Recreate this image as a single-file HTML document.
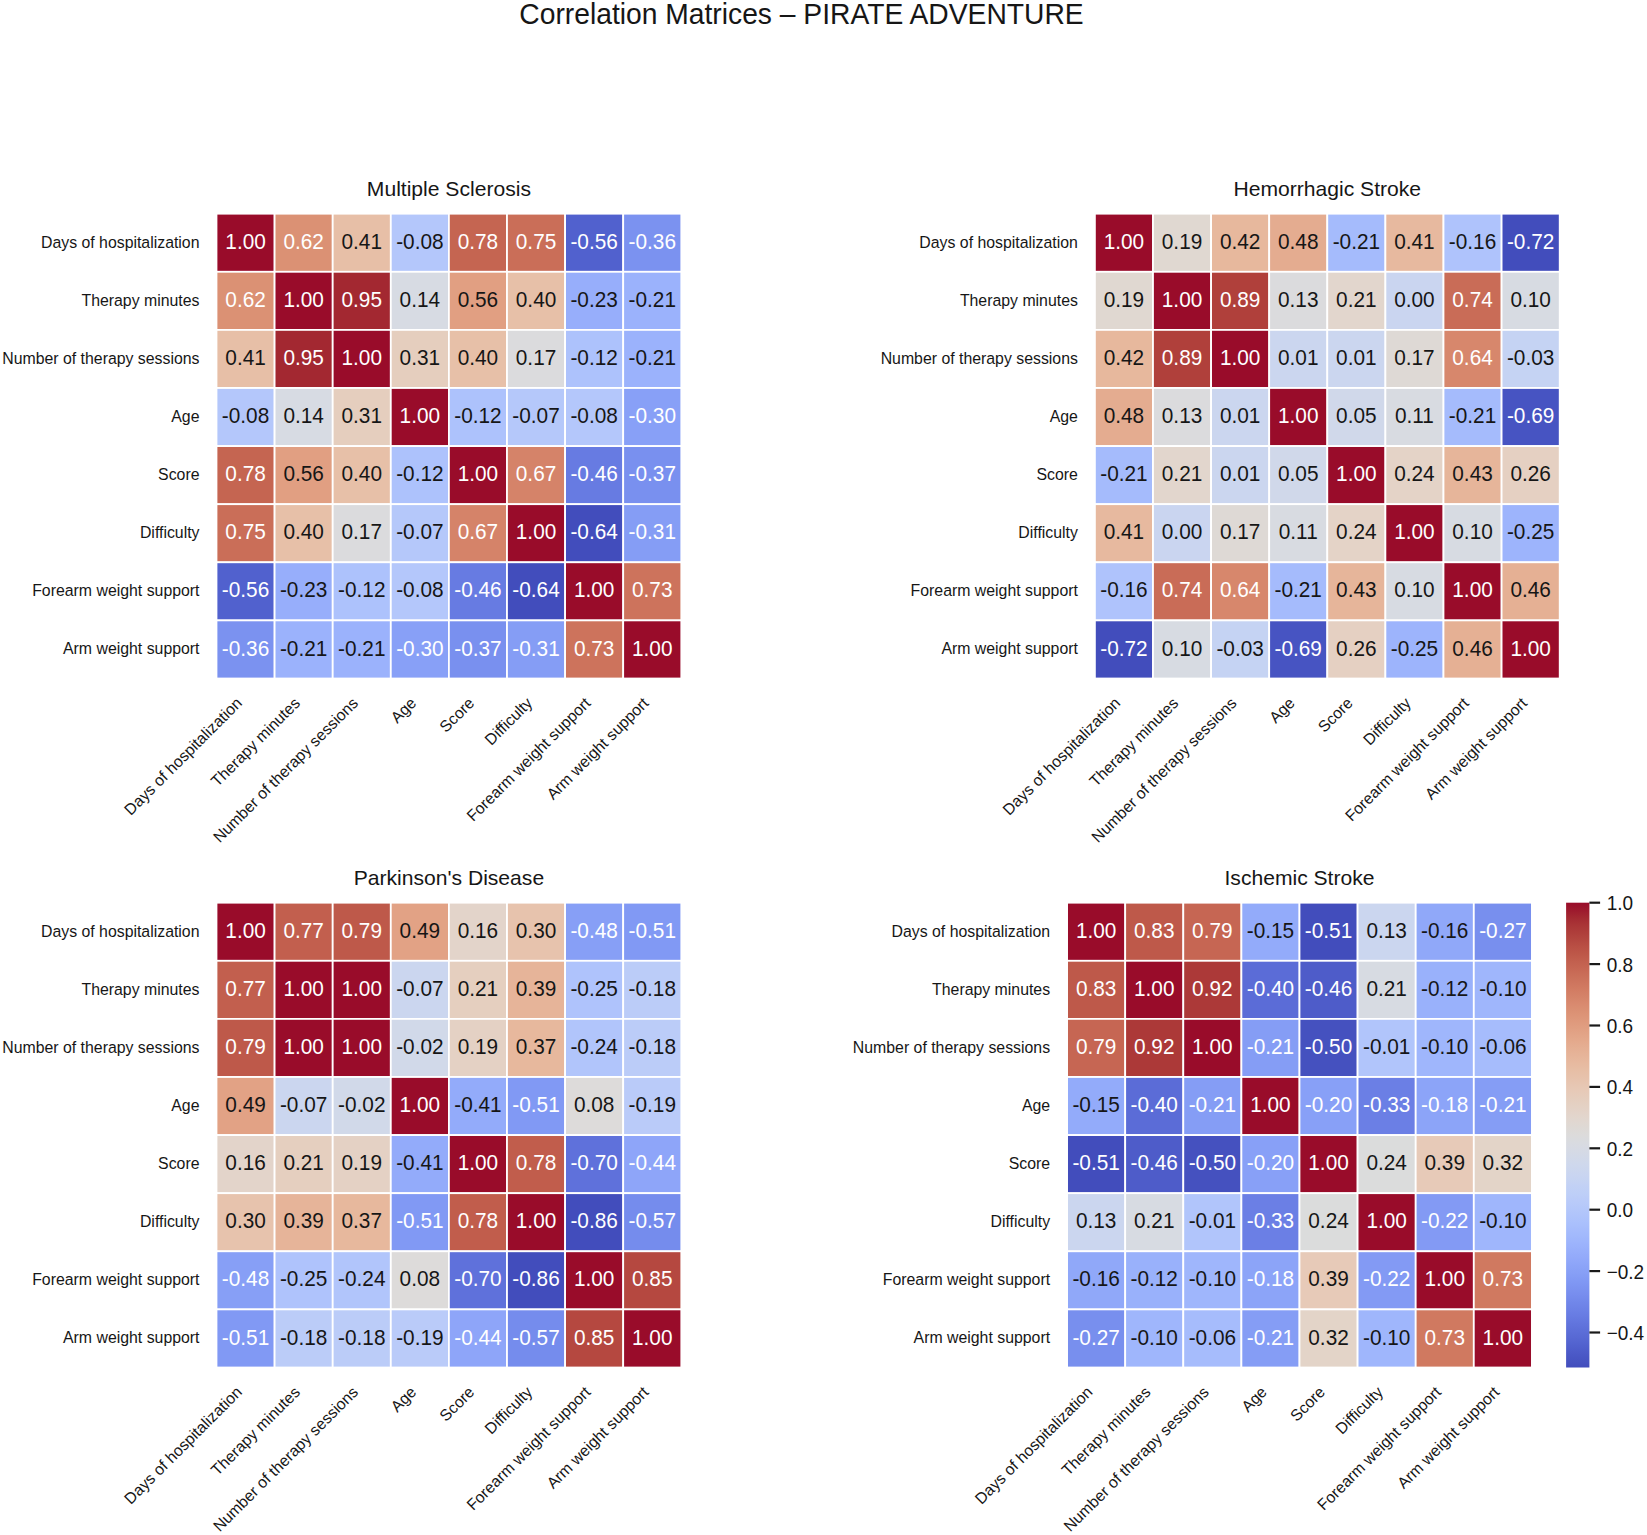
<!DOCTYPE html>
<html lang="en"><head><meta charset="utf-8"><title>Correlation Matrices – PIRATE ADVENTURE</title>
<style>html,body{margin:0;padding:0;background:#fff}svg{display:block}text{font-family:"Liberation Sans",Arial,sans-serif;fill:#161616}.w{fill:#fff}.a{font-size:20.8px;text-anchor:middle}.t{font-size:15.85px}.y{text-anchor:end}.x{text-anchor:end}.h{font-size:21.1px;text-anchor:middle}.c{font-size:19px}</style>
</head><body>
<svg width="1647" height="1535" viewBox="0 0 1647 1535">
<rect width="100%" height="100%" fill="#fff"/>
<text transform="scale(1 1.06)" x="801.5" y="22.45" style="font-size:28.25px;text-anchor:middle">Correlation Matrices – PIRATE ADVENTURE</text>
<g>
<text class="h" x="448.90" y="195.85">Multiple Sclerosis</text>
<g stroke="#fff" stroke-width="1.78">
<rect x="216.50" y="213.70" width="58.10" height="58.10" fill="#990c2a"/>
<rect x="274.60" y="213.70" width="58.10" height="58.10" fill="#db9174"/>
<rect x="332.70" y="213.70" width="58.10" height="58.10" fill="#e7bfa7"/>
<rect x="390.80" y="213.70" width="58.10" height="58.10" fill="#b4c7fb"/>
<rect x="448.90" y="213.70" width="58.10" height="58.10" fill="#c56551"/>
<rect x="507.00" y="213.70" width="58.10" height="58.10" fill="#ca6e58"/>
<rect x="565.10" y="213.70" width="58.10" height="58.10" fill="#5161ce"/>
<rect x="623.20" y="213.70" width="58.10" height="58.10" fill="#7b92f0"/>
<rect x="216.50" y="271.80" width="58.10" height="58.10" fill="#db9174"/>
<rect x="274.60" y="271.80" width="58.10" height="58.10" fill="#990c2a"/>
<rect x="332.70" y="271.80" width="58.10" height="58.10" fill="#a32831"/>
<rect x="390.80" y="271.80" width="58.10" height="58.10" fill="#d7dbe3"/>
<rect x="448.90" y="271.80" width="58.10" height="58.10" fill="#e19f82"/>
<rect x="507.00" y="271.80" width="58.10" height="58.10" fill="#e7c0a8"/>
<rect x="565.10" y="271.80" width="58.10" height="58.10" fill="#97aefb"/>
<rect x="623.20" y="271.80" width="58.10" height="58.10" fill="#9bb2fc"/>
<rect x="216.50" y="329.90" width="58.10" height="58.10" fill="#e7bfa7"/>
<rect x="274.60" y="329.90" width="58.10" height="58.10" fill="#a32831"/>
<rect x="332.70" y="329.90" width="58.10" height="58.10" fill="#990c2a"/>
<rect x="390.80" y="329.90" width="58.10" height="58.10" fill="#e5cebe"/>
<rect x="448.90" y="329.90" width="58.10" height="58.10" fill="#e7c0a8"/>
<rect x="507.00" y="329.90" width="58.10" height="58.10" fill="#dbdbdd"/>
<rect x="565.10" y="329.90" width="58.10" height="58.10" fill="#adc2fc"/>
<rect x="623.20" y="329.90" width="58.10" height="58.10" fill="#9bb2fc"/>
<rect x="216.50" y="388.00" width="58.10" height="58.10" fill="#b4c7fb"/>
<rect x="274.60" y="388.00" width="58.10" height="58.10" fill="#d7dbe3"/>
<rect x="332.70" y="388.00" width="58.10" height="58.10" fill="#e5cebe"/>
<rect x="390.80" y="388.00" width="58.10" height="58.10" fill="#990c2a"/>
<rect x="448.90" y="388.00" width="58.10" height="58.10" fill="#adc2fc"/>
<rect x="507.00" y="388.00" width="58.10" height="58.10" fill="#b5c8fa"/>
<rect x="565.10" y="388.00" width="58.10" height="58.10" fill="#b4c7fb"/>
<rect x="623.20" y="388.00" width="58.10" height="58.10" fill="#88a0f7"/>
<rect x="216.50" y="446.10" width="58.10" height="58.10" fill="#c56551"/>
<rect x="274.60" y="446.10" width="58.10" height="58.10" fill="#e19f82"/>
<rect x="332.70" y="446.10" width="58.10" height="58.10" fill="#e7c0a8"/>
<rect x="390.80" y="446.10" width="58.10" height="58.10" fill="#adc2fc"/>
<rect x="448.90" y="446.10" width="58.10" height="58.10" fill="#990c2a"/>
<rect x="507.00" y="446.10" width="58.10" height="58.10" fill="#d58369"/>
<rect x="565.10" y="446.10" width="58.10" height="58.10" fill="#677be2"/>
<rect x="623.20" y="446.10" width="58.10" height="58.10" fill="#7990ef"/>
<rect x="216.50" y="504.20" width="58.10" height="58.10" fill="#ca6e58"/>
<rect x="274.60" y="504.20" width="58.10" height="58.10" fill="#e7c0a8"/>
<rect x="332.70" y="504.20" width="58.10" height="58.10" fill="#dbdbdd"/>
<rect x="390.80" y="504.20" width="58.10" height="58.10" fill="#b5c8fa"/>
<rect x="448.90" y="504.20" width="58.10" height="58.10" fill="#d58369"/>
<rect x="507.00" y="504.20" width="58.10" height="58.10" fill="#990c2a"/>
<rect x="565.10" y="504.20" width="58.10" height="58.10" fill="#424dbc"/>
<rect x="623.20" y="504.20" width="58.10" height="58.10" fill="#859df5"/>
<rect x="216.50" y="562.30" width="58.10" height="58.10" fill="#5161ce"/>
<rect x="274.60" y="562.30" width="58.10" height="58.10" fill="#97aefb"/>
<rect x="332.70" y="562.30" width="58.10" height="58.10" fill="#adc2fc"/>
<rect x="390.80" y="562.30" width="58.10" height="58.10" fill="#b4c7fb"/>
<rect x="448.90" y="562.30" width="58.10" height="58.10" fill="#677be2"/>
<rect x="507.00" y="562.30" width="58.10" height="58.10" fill="#424dbc"/>
<rect x="565.10" y="562.30" width="58.10" height="58.10" fill="#990c2a"/>
<rect x="623.20" y="562.30" width="58.10" height="58.10" fill="#cd735c"/>
<rect x="216.50" y="620.40" width="58.10" height="58.10" fill="#7b92f0"/>
<rect x="274.60" y="620.40" width="58.10" height="58.10" fill="#9bb2fc"/>
<rect x="332.70" y="620.40" width="58.10" height="58.10" fill="#9bb2fc"/>
<rect x="390.80" y="620.40" width="58.10" height="58.10" fill="#88a0f7"/>
<rect x="448.90" y="620.40" width="58.10" height="58.10" fill="#7990ef"/>
<rect x="507.00" y="620.40" width="58.10" height="58.10" fill="#859df5"/>
<rect x="565.10" y="620.40" width="58.10" height="58.10" fill="#cd735c"/>
<rect x="623.20" y="620.40" width="58.10" height="58.10" fill="#990c2a"/>
</g>
<g class="a" transform="scale(1 1.06)">
<text class="w" x="245.55" y="234.81">1.00</text>
<text class="w" x="303.65" y="234.81">0.62</text>
<text x="361.75" y="234.81">0.41</text>
<text x="419.85" y="234.81">-0.08</text>
<text class="w" x="477.95" y="234.81">0.78</text>
<text class="w" x="536.05" y="234.81">0.75</text>
<text class="w" x="594.15" y="234.81">-0.56</text>
<text class="w" x="652.25" y="234.81">-0.36</text>
<text class="w" x="245.55" y="289.62">0.62</text>
<text class="w" x="303.65" y="289.62">1.00</text>
<text class="w" x="361.75" y="289.62">0.95</text>
<text x="419.85" y="289.62">0.14</text>
<text x="477.95" y="289.62">0.56</text>
<text x="536.05" y="289.62">0.40</text>
<text x="594.15" y="289.62">-0.23</text>
<text x="652.25" y="289.62">-0.21</text>
<text x="245.55" y="344.43">0.41</text>
<text class="w" x="303.65" y="344.43">0.95</text>
<text class="w" x="361.75" y="344.43">1.00</text>
<text x="419.85" y="344.43">0.31</text>
<text x="477.95" y="344.43">0.40</text>
<text x="536.05" y="344.43">0.17</text>
<text x="594.15" y="344.43">-0.12</text>
<text x="652.25" y="344.43">-0.21</text>
<text x="245.55" y="399.25">-0.08</text>
<text x="303.65" y="399.25">0.14</text>
<text x="361.75" y="399.25">0.31</text>
<text class="w" x="419.85" y="399.25">1.00</text>
<text x="477.95" y="399.25">-0.12</text>
<text x="536.05" y="399.25">-0.07</text>
<text x="594.15" y="399.25">-0.08</text>
<text class="w" x="652.25" y="399.25">-0.30</text>
<text class="w" x="245.55" y="454.06">0.78</text>
<text x="303.65" y="454.06">0.56</text>
<text x="361.75" y="454.06">0.40</text>
<text x="419.85" y="454.06">-0.12</text>
<text class="w" x="477.95" y="454.06">1.00</text>
<text class="w" x="536.05" y="454.06">0.67</text>
<text class="w" x="594.15" y="454.06">-0.46</text>
<text class="w" x="652.25" y="454.06">-0.37</text>
<text class="w" x="245.55" y="508.87">0.75</text>
<text x="303.65" y="508.87">0.40</text>
<text x="361.75" y="508.87">0.17</text>
<text x="419.85" y="508.87">-0.07</text>
<text class="w" x="477.95" y="508.87">0.67</text>
<text class="w" x="536.05" y="508.87">1.00</text>
<text class="w" x="594.15" y="508.87">-0.64</text>
<text class="w" x="652.25" y="508.87">-0.31</text>
<text class="w" x="245.55" y="563.68">-0.56</text>
<text x="303.65" y="563.68">-0.23</text>
<text x="361.75" y="563.68">-0.12</text>
<text x="419.85" y="563.68">-0.08</text>
<text class="w" x="477.95" y="563.68">-0.46</text>
<text class="w" x="536.05" y="563.68">-0.64</text>
<text class="w" x="594.15" y="563.68">1.00</text>
<text class="w" x="652.25" y="563.68">0.73</text>
<text class="w" x="245.55" y="618.49">-0.36</text>
<text x="303.65" y="618.49">-0.21</text>
<text x="361.75" y="618.49">-0.21</text>
<text class="w" x="419.85" y="618.49">-0.30</text>
<text class="w" x="477.95" y="618.49">-0.37</text>
<text class="w" x="536.05" y="618.49">-0.31</text>
<text class="w" x="594.15" y="618.49">0.73</text>
<text class="w" x="652.25" y="618.49">1.00</text>
</g>
<g class="t y">
<text x="199.50" y="247.65">Days of hospitalization</text>
<text x="199.50" y="305.75">Therapy minutes</text>
<text x="199.50" y="363.85">Number of therapy sessions</text>
<text x="199.50" y="421.95">Age</text>
<text x="199.50" y="480.05">Score</text>
<text x="199.50" y="538.15">Difficulty</text>
<text x="199.50" y="596.25">Forearm weight support</text>
<text x="199.50" y="654.35">Arm weight support</text>
</g>
<g class="t x">
<text transform="translate(242.95 704.06) rotate(-45)">Days of hospitalization</text>
<text transform="translate(301.05 704.06) rotate(-45)">Therapy minutes</text>
<text transform="translate(359.15 704.06) rotate(-45)">Number of therapy sessions</text>
<text transform="translate(417.25 704.06) rotate(-45)">Age</text>
<text transform="translate(475.35 704.06) rotate(-45)">Score</text>
<text transform="translate(533.45 704.06) rotate(-45)">Difficulty</text>
<text transform="translate(591.55 704.06) rotate(-45)">Forearm weight support</text>
<text transform="translate(649.65 704.06) rotate(-45)">Arm weight support</text>
</g>
</g>
<g>
<text class="h" x="1327.30" y="195.85">Hemorrhagic Stroke</text>
<g stroke="#fff" stroke-width="1.78">
<rect x="1094.90" y="213.70" width="58.10" height="58.10" fill="#990c2a"/>
<rect x="1153.00" y="213.70" width="58.10" height="58.10" fill="#e0d8d1"/>
<rect x="1211.10" y="213.70" width="58.10" height="58.10" fill="#e7b89d"/>
<rect x="1269.20" y="213.70" width="58.10" height="58.10" fill="#e4ac90"/>
<rect x="1327.30" y="213.70" width="58.10" height="58.10" fill="#a5bbfc"/>
<rect x="1385.40" y="213.70" width="58.10" height="58.10" fill="#e7b99f"/>
<rect x="1443.50" y="213.70" width="58.10" height="58.10" fill="#afc3fc"/>
<rect x="1501.60" y="213.70" width="58.10" height="58.10" fill="#424dbc"/>
<rect x="1094.90" y="271.80" width="58.10" height="58.10" fill="#e0d8d1"/>
<rect x="1153.00" y="271.80" width="58.10" height="58.10" fill="#990c2a"/>
<rect x="1211.10" y="271.80" width="58.10" height="58.10" fill="#b0403b"/>
<rect x="1269.20" y="271.80" width="58.10" height="58.10" fill="#dbdbdd"/>
<rect x="1327.30" y="271.80" width="58.10" height="58.10" fill="#e2d6cd"/>
<rect x="1385.40" y="271.80" width="58.10" height="58.10" fill="#cad5f0"/>
<rect x="1443.50" y="271.80" width="58.10" height="58.10" fill="#c96c57"/>
<rect x="1501.60" y="271.80" width="58.10" height="58.10" fill="#d7dbe2"/>
<rect x="1094.90" y="329.90" width="58.10" height="58.10" fill="#e7b89d"/>
<rect x="1153.00" y="329.90" width="58.10" height="58.10" fill="#b0403b"/>
<rect x="1211.10" y="329.90" width="58.10" height="58.10" fill="#990c2a"/>
<rect x="1269.20" y="329.90" width="58.10" height="58.10" fill="#cbd6ef"/>
<rect x="1327.30" y="329.90" width="58.10" height="58.10" fill="#cbd6ef"/>
<rect x="1385.40" y="329.90" width="58.10" height="58.10" fill="#ded9d5"/>
<rect x="1443.50" y="329.90" width="58.10" height="58.10" fill="#d7876c"/>
<rect x="1501.60" y="329.90" width="58.10" height="58.10" fill="#c5d3f3"/>
<rect x="1094.90" y="388.00" width="58.10" height="58.10" fill="#e4ac90"/>
<rect x="1153.00" y="388.00" width="58.10" height="58.10" fill="#dbdbdd"/>
<rect x="1211.10" y="388.00" width="58.10" height="58.10" fill="#cbd6ef"/>
<rect x="1269.20" y="388.00" width="58.10" height="58.10" fill="#990c2a"/>
<rect x="1327.30" y="388.00" width="58.10" height="58.10" fill="#d0d8ea"/>
<rect x="1385.40" y="388.00" width="58.10" height="58.10" fill="#d8dbe1"/>
<rect x="1443.50" y="388.00" width="58.10" height="58.10" fill="#a5bbfc"/>
<rect x="1501.60" y="388.00" width="58.10" height="58.10" fill="#4754c2"/>
<rect x="1094.90" y="446.10" width="58.10" height="58.10" fill="#a5bbfc"/>
<rect x="1153.00" y="446.10" width="58.10" height="58.10" fill="#e2d6cd"/>
<rect x="1211.10" y="446.10" width="58.10" height="58.10" fill="#cbd6ef"/>
<rect x="1269.20" y="446.10" width="58.10" height="58.10" fill="#d0d8ea"/>
<rect x="1327.30" y="446.10" width="58.10" height="58.10" fill="#990c2a"/>
<rect x="1385.40" y="446.10" width="58.10" height="58.10" fill="#e4d3c7"/>
<rect x="1443.50" y="446.10" width="58.10" height="58.10" fill="#e6b59a"/>
<rect x="1501.60" y="446.10" width="58.10" height="58.10" fill="#e5d0c2"/>
<rect x="1094.90" y="504.20" width="58.10" height="58.10" fill="#e7b99f"/>
<rect x="1153.00" y="504.20" width="58.10" height="58.10" fill="#cad5f0"/>
<rect x="1211.10" y="504.20" width="58.10" height="58.10" fill="#ded9d5"/>
<rect x="1269.20" y="504.20" width="58.10" height="58.10" fill="#d8dbe1"/>
<rect x="1327.30" y="504.20" width="58.10" height="58.10" fill="#e4d3c7"/>
<rect x="1385.40" y="504.20" width="58.10" height="58.10" fill="#990c2a"/>
<rect x="1443.50" y="504.20" width="58.10" height="58.10" fill="#d7dbe2"/>
<rect x="1501.60" y="504.20" width="58.10" height="58.10" fill="#9db4fc"/>
<rect x="1094.90" y="562.30" width="58.10" height="58.10" fill="#afc3fc"/>
<rect x="1153.00" y="562.30" width="58.10" height="58.10" fill="#c96c57"/>
<rect x="1211.10" y="562.30" width="58.10" height="58.10" fill="#d7876c"/>
<rect x="1269.20" y="562.30" width="58.10" height="58.10" fill="#a5bbfc"/>
<rect x="1327.30" y="562.30" width="58.10" height="58.10" fill="#e6b59a"/>
<rect x="1385.40" y="562.30" width="58.10" height="58.10" fill="#d7dbe2"/>
<rect x="1443.50" y="562.30" width="58.10" height="58.10" fill="#990c2a"/>
<rect x="1501.60" y="562.30" width="58.10" height="58.10" fill="#e5b094"/>
<rect x="1094.90" y="620.40" width="58.10" height="58.10" fill="#424dbc"/>
<rect x="1153.00" y="620.40" width="58.10" height="58.10" fill="#d7dbe2"/>
<rect x="1211.10" y="620.40" width="58.10" height="58.10" fill="#c5d3f3"/>
<rect x="1269.20" y="620.40" width="58.10" height="58.10" fill="#4754c2"/>
<rect x="1327.30" y="620.40" width="58.10" height="58.10" fill="#e5d0c2"/>
<rect x="1385.40" y="620.40" width="58.10" height="58.10" fill="#9db4fc"/>
<rect x="1443.50" y="620.40" width="58.10" height="58.10" fill="#e5b094"/>
<rect x="1501.60" y="620.40" width="58.10" height="58.10" fill="#990c2a"/>
</g>
<g class="a" transform="scale(1 1.06)">
<text class="w" x="1123.95" y="234.81">1.00</text>
<text x="1182.05" y="234.81">0.19</text>
<text x="1240.15" y="234.81">0.42</text>
<text x="1298.25" y="234.81">0.48</text>
<text x="1356.35" y="234.81">-0.21</text>
<text x="1414.45" y="234.81">0.41</text>
<text x="1472.55" y="234.81">-0.16</text>
<text class="w" x="1530.65" y="234.81">-0.72</text>
<text x="1123.95" y="289.62">0.19</text>
<text class="w" x="1182.05" y="289.62">1.00</text>
<text class="w" x="1240.15" y="289.62">0.89</text>
<text x="1298.25" y="289.62">0.13</text>
<text x="1356.35" y="289.62">0.21</text>
<text x="1414.45" y="289.62">0.00</text>
<text class="w" x="1472.55" y="289.62">0.74</text>
<text x="1530.65" y="289.62">0.10</text>
<text x="1123.95" y="344.43">0.42</text>
<text class="w" x="1182.05" y="344.43">0.89</text>
<text class="w" x="1240.15" y="344.43">1.00</text>
<text x="1298.25" y="344.43">0.01</text>
<text x="1356.35" y="344.43">0.01</text>
<text x="1414.45" y="344.43">0.17</text>
<text class="w" x="1472.55" y="344.43">0.64</text>
<text x="1530.65" y="344.43">-0.03</text>
<text x="1123.95" y="399.25">0.48</text>
<text x="1182.05" y="399.25">0.13</text>
<text x="1240.15" y="399.25">0.01</text>
<text class="w" x="1298.25" y="399.25">1.00</text>
<text x="1356.35" y="399.25">0.05</text>
<text x="1414.45" y="399.25">0.11</text>
<text x="1472.55" y="399.25">-0.21</text>
<text class="w" x="1530.65" y="399.25">-0.69</text>
<text x="1123.95" y="454.06">-0.21</text>
<text x="1182.05" y="454.06">0.21</text>
<text x="1240.15" y="454.06">0.01</text>
<text x="1298.25" y="454.06">0.05</text>
<text class="w" x="1356.35" y="454.06">1.00</text>
<text x="1414.45" y="454.06">0.24</text>
<text x="1472.55" y="454.06">0.43</text>
<text x="1530.65" y="454.06">0.26</text>
<text x="1123.95" y="508.87">0.41</text>
<text x="1182.05" y="508.87">0.00</text>
<text x="1240.15" y="508.87">0.17</text>
<text x="1298.25" y="508.87">0.11</text>
<text x="1356.35" y="508.87">0.24</text>
<text class="w" x="1414.45" y="508.87">1.00</text>
<text x="1472.55" y="508.87">0.10</text>
<text x="1530.65" y="508.87">-0.25</text>
<text x="1123.95" y="563.68">-0.16</text>
<text class="w" x="1182.05" y="563.68">0.74</text>
<text class="w" x="1240.15" y="563.68">0.64</text>
<text x="1298.25" y="563.68">-0.21</text>
<text x="1356.35" y="563.68">0.43</text>
<text x="1414.45" y="563.68">0.10</text>
<text class="w" x="1472.55" y="563.68">1.00</text>
<text x="1530.65" y="563.68">0.46</text>
<text class="w" x="1123.95" y="618.49">-0.72</text>
<text x="1182.05" y="618.49">0.10</text>
<text x="1240.15" y="618.49">-0.03</text>
<text class="w" x="1298.25" y="618.49">-0.69</text>
<text x="1356.35" y="618.49">0.26</text>
<text x="1414.45" y="618.49">-0.25</text>
<text x="1472.55" y="618.49">0.46</text>
<text class="w" x="1530.65" y="618.49">1.00</text>
</g>
<g class="t y">
<text x="1077.90" y="247.65">Days of hospitalization</text>
<text x="1077.90" y="305.75">Therapy minutes</text>
<text x="1077.90" y="363.85">Number of therapy sessions</text>
<text x="1077.90" y="421.95">Age</text>
<text x="1077.90" y="480.05">Score</text>
<text x="1077.90" y="538.15">Difficulty</text>
<text x="1077.90" y="596.25">Forearm weight support</text>
<text x="1077.90" y="654.35">Arm weight support</text>
</g>
<g class="t x">
<text transform="translate(1121.35 704.06) rotate(-45)">Days of hospitalization</text>
<text transform="translate(1179.45 704.06) rotate(-45)">Therapy minutes</text>
<text transform="translate(1237.55 704.06) rotate(-45)">Number of therapy sessions</text>
<text transform="translate(1295.65 704.06) rotate(-45)">Age</text>
<text transform="translate(1353.75 704.06) rotate(-45)">Score</text>
<text transform="translate(1411.85 704.06) rotate(-45)">Difficulty</text>
<text transform="translate(1469.95 704.06) rotate(-45)">Forearm weight support</text>
<text transform="translate(1528.05 704.06) rotate(-45)">Arm weight support</text>
</g>
</g>
<g>
<text class="h" x="448.90" y="885.20">Parkinson&#39;s Disease</text>
<g stroke="#fff" stroke-width="1.78">
<rect x="216.50" y="902.70" width="58.10" height="58.10" fill="#990c2a"/>
<rect x="274.60" y="902.70" width="58.10" height="58.10" fill="#c25f4e"/>
<rect x="332.70" y="902.70" width="58.10" height="58.10" fill="#be594a"/>
<rect x="390.80" y="902.70" width="58.10" height="58.10" fill="#e2a285"/>
<rect x="448.90" y="902.70" width="58.10" height="58.10" fill="#e3d4ca"/>
<rect x="507.00" y="902.70" width="58.10" height="58.10" fill="#e7c3ad"/>
<rect x="565.10" y="902.70" width="58.10" height="58.10" fill="#879ff6"/>
<rect x="623.20" y="902.70" width="58.10" height="58.10" fill="#8199f4"/>
<rect x="216.50" y="960.80" width="58.10" height="58.10" fill="#c25f4e"/>
<rect x="274.60" y="960.80" width="58.10" height="58.10" fill="#990c2a"/>
<rect x="332.70" y="960.80" width="58.10" height="58.10" fill="#990c2a"/>
<rect x="390.80" y="960.80" width="58.10" height="58.10" fill="#cbd6ef"/>
<rect x="448.90" y="960.80" width="58.10" height="58.10" fill="#e5cfbf"/>
<rect x="507.00" y="960.80" width="58.10" height="58.10" fill="#e6b499"/>
<rect x="565.10" y="960.80" width="58.10" height="58.10" fill="#afc3fc"/>
<rect x="623.20" y="960.80" width="58.10" height="58.10" fill="#bbccf8"/>
<rect x="216.50" y="1018.90" width="58.10" height="58.10" fill="#be594a"/>
<rect x="274.60" y="1018.90" width="58.10" height="58.10" fill="#990c2a"/>
<rect x="332.70" y="1018.90" width="58.10" height="58.10" fill="#990c2a"/>
<rect x="390.80" y="1018.90" width="58.10" height="58.10" fill="#d1d9e9"/>
<rect x="448.90" y="1018.90" width="58.10" height="58.10" fill="#e4d1c4"/>
<rect x="507.00" y="1018.90" width="58.10" height="58.10" fill="#e7b89d"/>
<rect x="565.10" y="1018.90" width="58.10" height="58.10" fill="#b1c5fb"/>
<rect x="623.20" y="1018.90" width="58.10" height="58.10" fill="#bbccf8"/>
<rect x="216.50" y="1077.00" width="58.10" height="58.10" fill="#e2a285"/>
<rect x="274.60" y="1077.00" width="58.10" height="58.10" fill="#cbd6ef"/>
<rect x="332.70" y="1077.00" width="58.10" height="58.10" fill="#d1d9e9"/>
<rect x="390.80" y="1077.00" width="58.10" height="58.10" fill="#990c2a"/>
<rect x="448.90" y="1077.00" width="58.10" height="58.10" fill="#93abfa"/>
<rect x="507.00" y="1077.00" width="58.10" height="58.10" fill="#8199f4"/>
<rect x="565.10" y="1077.00" width="58.10" height="58.10" fill="#dddbda"/>
<rect x="623.20" y="1077.00" width="58.10" height="58.10" fill="#bacbf9"/>
<rect x="216.50" y="1135.10" width="58.10" height="58.10" fill="#e3d4ca"/>
<rect x="274.60" y="1135.10" width="58.10" height="58.10" fill="#e5cfbf"/>
<rect x="332.70" y="1135.10" width="58.10" height="58.10" fill="#e4d1c4"/>
<rect x="390.80" y="1135.10" width="58.10" height="58.10" fill="#93abfa"/>
<rect x="448.90" y="1135.10" width="58.10" height="58.10" fill="#990c2a"/>
<rect x="507.00" y="1135.10" width="58.10" height="58.10" fill="#c15d4c"/>
<rect x="565.10" y="1135.10" width="58.10" height="58.10" fill="#5f71db"/>
<rect x="623.20" y="1135.10" width="58.10" height="58.10" fill="#8ea5f9"/>
<rect x="216.50" y="1193.20" width="58.10" height="58.10" fill="#e7c3ad"/>
<rect x="274.60" y="1193.20" width="58.10" height="58.10" fill="#e6b499"/>
<rect x="332.70" y="1193.20" width="58.10" height="58.10" fill="#e7b89d"/>
<rect x="390.80" y="1193.20" width="58.10" height="58.10" fill="#8199f4"/>
<rect x="448.90" y="1193.20" width="58.10" height="58.10" fill="#c15d4c"/>
<rect x="507.00" y="1193.20" width="58.10" height="58.10" fill="#990c2a"/>
<rect x="565.10" y="1193.20" width="58.10" height="58.10" fill="#424dbc"/>
<rect x="623.20" y="1193.20" width="58.10" height="58.10" fill="#758ced"/>
<rect x="216.50" y="1251.30" width="58.10" height="58.10" fill="#879ff6"/>
<rect x="274.60" y="1251.30" width="58.10" height="58.10" fill="#afc3fc"/>
<rect x="332.70" y="1251.30" width="58.10" height="58.10" fill="#b1c5fb"/>
<rect x="390.80" y="1251.30" width="58.10" height="58.10" fill="#dddbda"/>
<rect x="448.90" y="1251.30" width="58.10" height="58.10" fill="#5f71db"/>
<rect x="507.00" y="1251.30" width="58.10" height="58.10" fill="#424dbc"/>
<rect x="565.10" y="1251.30" width="58.10" height="58.10" fill="#990c2a"/>
<rect x="623.20" y="1251.30" width="58.10" height="58.10" fill="#b54840"/>
<rect x="216.50" y="1309.40" width="58.10" height="58.10" fill="#8199f4"/>
<rect x="274.60" y="1309.40" width="58.10" height="58.10" fill="#bbccf8"/>
<rect x="332.70" y="1309.40" width="58.10" height="58.10" fill="#bbccf8"/>
<rect x="390.80" y="1309.40" width="58.10" height="58.10" fill="#bacbf9"/>
<rect x="448.90" y="1309.40" width="58.10" height="58.10" fill="#8ea5f9"/>
<rect x="507.00" y="1309.40" width="58.10" height="58.10" fill="#758ced"/>
<rect x="565.10" y="1309.40" width="58.10" height="58.10" fill="#b54840"/>
<rect x="623.20" y="1309.40" width="58.10" height="58.10" fill="#990c2a"/>
</g>
<g class="a" transform="scale(1 1.06)">
<text class="w" x="245.55" y="884.81">1.00</text>
<text class="w" x="303.65" y="884.81">0.77</text>
<text class="w" x="361.75" y="884.81">0.79</text>
<text x="419.85" y="884.81">0.49</text>
<text x="477.95" y="884.81">0.16</text>
<text x="536.05" y="884.81">0.30</text>
<text class="w" x="594.15" y="884.81">-0.48</text>
<text class="w" x="652.25" y="884.81">-0.51</text>
<text class="w" x="245.55" y="939.62">0.77</text>
<text class="w" x="303.65" y="939.62">1.00</text>
<text class="w" x="361.75" y="939.62">1.00</text>
<text x="419.85" y="939.62">-0.07</text>
<text x="477.95" y="939.62">0.21</text>
<text x="536.05" y="939.62">0.39</text>
<text x="594.15" y="939.62">-0.25</text>
<text x="652.25" y="939.62">-0.18</text>
<text class="w" x="245.55" y="994.43">0.79</text>
<text class="w" x="303.65" y="994.43">1.00</text>
<text class="w" x="361.75" y="994.43">1.00</text>
<text x="419.85" y="994.43">-0.02</text>
<text x="477.95" y="994.43">0.19</text>
<text x="536.05" y="994.43">0.37</text>
<text x="594.15" y="994.43">-0.24</text>
<text x="652.25" y="994.43">-0.18</text>
<text x="245.55" y="1049.25">0.49</text>
<text x="303.65" y="1049.25">-0.07</text>
<text x="361.75" y="1049.25">-0.02</text>
<text class="w" x="419.85" y="1049.25">1.00</text>
<text x="477.95" y="1049.25">-0.41</text>
<text class="w" x="536.05" y="1049.25">-0.51</text>
<text x="594.15" y="1049.25">0.08</text>
<text x="652.25" y="1049.25">-0.19</text>
<text x="245.55" y="1104.06">0.16</text>
<text x="303.65" y="1104.06">0.21</text>
<text x="361.75" y="1104.06">0.19</text>
<text x="419.85" y="1104.06">-0.41</text>
<text class="w" x="477.95" y="1104.06">1.00</text>
<text class="w" x="536.05" y="1104.06">0.78</text>
<text class="w" x="594.15" y="1104.06">-0.70</text>
<text class="w" x="652.25" y="1104.06">-0.44</text>
<text x="245.55" y="1158.87">0.30</text>
<text x="303.65" y="1158.87">0.39</text>
<text x="361.75" y="1158.87">0.37</text>
<text class="w" x="419.85" y="1158.87">-0.51</text>
<text class="w" x="477.95" y="1158.87">0.78</text>
<text class="w" x="536.05" y="1158.87">1.00</text>
<text class="w" x="594.15" y="1158.87">-0.86</text>
<text class="w" x="652.25" y="1158.87">-0.57</text>
<text class="w" x="245.55" y="1213.68">-0.48</text>
<text x="303.65" y="1213.68">-0.25</text>
<text x="361.75" y="1213.68">-0.24</text>
<text x="419.85" y="1213.68">0.08</text>
<text class="w" x="477.95" y="1213.68">-0.70</text>
<text class="w" x="536.05" y="1213.68">-0.86</text>
<text class="w" x="594.15" y="1213.68">1.00</text>
<text class="w" x="652.25" y="1213.68">0.85</text>
<text class="w" x="245.55" y="1268.49">-0.51</text>
<text x="303.65" y="1268.49">-0.18</text>
<text x="361.75" y="1268.49">-0.18</text>
<text x="419.85" y="1268.49">-0.19</text>
<text class="w" x="477.95" y="1268.49">-0.44</text>
<text class="w" x="536.05" y="1268.49">-0.57</text>
<text class="w" x="594.15" y="1268.49">0.85</text>
<text class="w" x="652.25" y="1268.49">1.00</text>
</g>
<g class="t y">
<text x="199.50" y="936.65">Days of hospitalization</text>
<text x="199.50" y="994.75">Therapy minutes</text>
<text x="199.50" y="1052.85">Number of therapy sessions</text>
<text x="199.50" y="1110.95">Age</text>
<text x="199.50" y="1169.05">Score</text>
<text x="199.50" y="1227.15">Difficulty</text>
<text x="199.50" y="1285.25">Forearm weight support</text>
<text x="199.50" y="1343.35">Arm weight support</text>
</g>
<g class="t x">
<text transform="translate(242.95 1393.06) rotate(-45)">Days of hospitalization</text>
<text transform="translate(301.05 1393.06) rotate(-45)">Therapy minutes</text>
<text transform="translate(359.15 1393.06) rotate(-45)">Number of therapy sessions</text>
<text transform="translate(417.25 1393.06) rotate(-45)">Age</text>
<text transform="translate(475.35 1393.06) rotate(-45)">Score</text>
<text transform="translate(533.45 1393.06) rotate(-45)">Difficulty</text>
<text transform="translate(591.55 1393.06) rotate(-45)">Forearm weight support</text>
<text transform="translate(649.65 1393.06) rotate(-45)">Arm weight support</text>
</g>
</g>
<g>
<text class="h" x="1299.50" y="885.20">Ischemic Stroke</text>
<g stroke="#fff" stroke-width="1.78">
<rect x="1067.10" y="902.70" width="58.10" height="58.10" fill="#990c2a"/>
<rect x="1125.20" y="902.70" width="58.10" height="58.10" fill="#be594a"/>
<rect x="1183.30" y="902.70" width="58.10" height="58.10" fill="#c66653"/>
<rect x="1241.40" y="902.70" width="58.10" height="58.10" fill="#93abfa"/>
<rect x="1299.50" y="902.70" width="58.10" height="58.10" fill="#424dbc"/>
<rect x="1357.60" y="902.70" width="58.10" height="58.10" fill="#cbd6ef"/>
<rect x="1415.70" y="902.70" width="58.10" height="58.10" fill="#90a8f9"/>
<rect x="1473.80" y="902.70" width="58.10" height="58.10" fill="#788fee"/>
<rect x="1067.10" y="960.80" width="58.10" height="58.10" fill="#be594a"/>
<rect x="1125.20" y="960.80" width="58.10" height="58.10" fill="#990c2a"/>
<rect x="1183.30" y="960.80" width="58.10" height="58.10" fill="#ac3938"/>
<rect x="1241.40" y="960.80" width="58.10" height="58.10" fill="#5b6cd7"/>
<rect x="1299.50" y="960.80" width="58.10" height="58.10" fill="#4e5cc9"/>
<rect x="1357.60" y="960.80" width="58.10" height="58.10" fill="#d7dbe2"/>
<rect x="1415.70" y="960.80" width="58.10" height="58.10" fill="#99b1fb"/>
<rect x="1473.80" y="960.80" width="58.10" height="58.10" fill="#9fb6fc"/>
<rect x="1067.10" y="1018.90" width="58.10" height="58.10" fill="#c66653"/>
<rect x="1125.20" y="1018.90" width="58.10" height="58.10" fill="#ac3938"/>
<rect x="1183.30" y="1018.90" width="58.10" height="58.10" fill="#990c2a"/>
<rect x="1241.40" y="1018.90" width="58.10" height="58.10" fill="#859df5"/>
<rect x="1299.50" y="1018.90" width="58.10" height="58.10" fill="#4551bf"/>
<rect x="1357.60" y="1018.90" width="58.10" height="58.10" fill="#b1c5fb"/>
<rect x="1415.70" y="1018.90" width="58.10" height="58.10" fill="#9fb6fc"/>
<rect x="1473.80" y="1018.90" width="58.10" height="58.10" fill="#a6bcfc"/>
<rect x="1067.10" y="1077.00" width="58.10" height="58.10" fill="#93abfa"/>
<rect x="1125.20" y="1077.00" width="58.10" height="58.10" fill="#5b6cd7"/>
<rect x="1183.30" y="1077.00" width="58.10" height="58.10" fill="#859df5"/>
<rect x="1241.40" y="1077.00" width="58.10" height="58.10" fill="#990c2a"/>
<rect x="1299.50" y="1077.00" width="58.10" height="58.10" fill="#88a0f7"/>
<rect x="1357.60" y="1077.00" width="58.10" height="58.10" fill="#6b7fe5"/>
<rect x="1415.70" y="1077.00" width="58.10" height="58.10" fill="#8ca4f8"/>
<rect x="1473.80" y="1077.00" width="58.10" height="58.10" fill="#859df5"/>
<rect x="1067.10" y="1135.10" width="58.10" height="58.10" fill="#424dbc"/>
<rect x="1125.20" y="1135.10" width="58.10" height="58.10" fill="#4e5cc9"/>
<rect x="1183.30" y="1135.10" width="58.10" height="58.10" fill="#4551bf"/>
<rect x="1241.40" y="1135.10" width="58.10" height="58.10" fill="#88a0f7"/>
<rect x="1299.50" y="1135.10" width="58.10" height="58.10" fill="#990c2a"/>
<rect x="1357.60" y="1135.10" width="58.10" height="58.10" fill="#dbdcdc"/>
<rect x="1415.70" y="1135.10" width="58.10" height="58.10" fill="#e7cab8"/>
<rect x="1473.80" y="1135.10" width="58.10" height="58.10" fill="#e3d4c8"/>
<rect x="1067.10" y="1193.20" width="58.10" height="58.10" fill="#cbd6ef"/>
<rect x="1125.20" y="1193.20" width="58.10" height="58.10" fill="#d7dbe2"/>
<rect x="1183.30" y="1193.20" width="58.10" height="58.10" fill="#b1c5fb"/>
<rect x="1241.40" y="1193.20" width="58.10" height="58.10" fill="#6b7fe5"/>
<rect x="1299.50" y="1193.20" width="58.10" height="58.10" fill="#dbdcdc"/>
<rect x="1357.60" y="1193.20" width="58.10" height="58.10" fill="#990c2a"/>
<rect x="1415.70" y="1193.20" width="58.10" height="58.10" fill="#839af4"/>
<rect x="1473.80" y="1193.20" width="58.10" height="58.10" fill="#9fb6fc"/>
<rect x="1067.10" y="1251.30" width="58.10" height="58.10" fill="#90a8f9"/>
<rect x="1125.20" y="1251.30" width="58.10" height="58.10" fill="#99b1fb"/>
<rect x="1183.30" y="1251.30" width="58.10" height="58.10" fill="#9fb6fc"/>
<rect x="1241.40" y="1251.30" width="58.10" height="58.10" fill="#8ca4f8"/>
<rect x="1299.50" y="1251.30" width="58.10" height="58.10" fill="#e7cab8"/>
<rect x="1357.60" y="1251.30" width="58.10" height="58.10" fill="#839af4"/>
<rect x="1415.70" y="1251.30" width="58.10" height="58.10" fill="#990c2a"/>
<rect x="1473.80" y="1251.30" width="58.10" height="58.10" fill="#d07960"/>
<rect x="1067.10" y="1309.40" width="58.10" height="58.10" fill="#788fee"/>
<rect x="1125.20" y="1309.40" width="58.10" height="58.10" fill="#9fb6fc"/>
<rect x="1183.30" y="1309.40" width="58.10" height="58.10" fill="#a6bcfc"/>
<rect x="1241.40" y="1309.40" width="58.10" height="58.10" fill="#859df5"/>
<rect x="1299.50" y="1309.40" width="58.10" height="58.10" fill="#e3d4c8"/>
<rect x="1357.60" y="1309.40" width="58.10" height="58.10" fill="#9fb6fc"/>
<rect x="1415.70" y="1309.40" width="58.10" height="58.10" fill="#d07960"/>
<rect x="1473.80" y="1309.40" width="58.10" height="58.10" fill="#990c2a"/>
</g>
<g class="a" transform="scale(1 1.06)">
<text class="w" x="1096.15" y="884.81">1.00</text>
<text class="w" x="1154.25" y="884.81">0.83</text>
<text class="w" x="1212.35" y="884.81">0.79</text>
<text x="1270.45" y="884.81">-0.15</text>
<text class="w" x="1328.55" y="884.81">-0.51</text>
<text x="1386.65" y="884.81">0.13</text>
<text x="1444.75" y="884.81">-0.16</text>
<text class="w" x="1502.85" y="884.81">-0.27</text>
<text class="w" x="1096.15" y="939.62">0.83</text>
<text class="w" x="1154.25" y="939.62">1.00</text>
<text class="w" x="1212.35" y="939.62">0.92</text>
<text class="w" x="1270.45" y="939.62">-0.40</text>
<text class="w" x="1328.55" y="939.62">-0.46</text>
<text x="1386.65" y="939.62">0.21</text>
<text x="1444.75" y="939.62">-0.12</text>
<text x="1502.85" y="939.62">-0.10</text>
<text class="w" x="1096.15" y="994.43">0.79</text>
<text class="w" x="1154.25" y="994.43">0.92</text>
<text class="w" x="1212.35" y="994.43">1.00</text>
<text class="w" x="1270.45" y="994.43">-0.21</text>
<text class="w" x="1328.55" y="994.43">-0.50</text>
<text x="1386.65" y="994.43">-0.01</text>
<text x="1444.75" y="994.43">-0.10</text>
<text x="1502.85" y="994.43">-0.06</text>
<text x="1096.15" y="1049.25">-0.15</text>
<text class="w" x="1154.25" y="1049.25">-0.40</text>
<text class="w" x="1212.35" y="1049.25">-0.21</text>
<text class="w" x="1270.45" y="1049.25">1.00</text>
<text class="w" x="1328.55" y="1049.25">-0.20</text>
<text class="w" x="1386.65" y="1049.25">-0.33</text>
<text class="w" x="1444.75" y="1049.25">-0.18</text>
<text class="w" x="1502.85" y="1049.25">-0.21</text>
<text class="w" x="1096.15" y="1104.06">-0.51</text>
<text class="w" x="1154.25" y="1104.06">-0.46</text>
<text class="w" x="1212.35" y="1104.06">-0.50</text>
<text class="w" x="1270.45" y="1104.06">-0.20</text>
<text class="w" x="1328.55" y="1104.06">1.00</text>
<text x="1386.65" y="1104.06">0.24</text>
<text x="1444.75" y="1104.06">0.39</text>
<text x="1502.85" y="1104.06">0.32</text>
<text x="1096.15" y="1158.87">0.13</text>
<text x="1154.25" y="1158.87">0.21</text>
<text x="1212.35" y="1158.87">-0.01</text>
<text class="w" x="1270.45" y="1158.87">-0.33</text>
<text x="1328.55" y="1158.87">0.24</text>
<text class="w" x="1386.65" y="1158.87">1.00</text>
<text class="w" x="1444.75" y="1158.87">-0.22</text>
<text x="1502.85" y="1158.87">-0.10</text>
<text x="1096.15" y="1213.68">-0.16</text>
<text x="1154.25" y="1213.68">-0.12</text>
<text x="1212.35" y="1213.68">-0.10</text>
<text class="w" x="1270.45" y="1213.68">-0.18</text>
<text x="1328.55" y="1213.68">0.39</text>
<text class="w" x="1386.65" y="1213.68">-0.22</text>
<text class="w" x="1444.75" y="1213.68">1.00</text>
<text class="w" x="1502.85" y="1213.68">0.73</text>
<text class="w" x="1096.15" y="1268.49">-0.27</text>
<text x="1154.25" y="1268.49">-0.10</text>
<text x="1212.35" y="1268.49">-0.06</text>
<text class="w" x="1270.45" y="1268.49">-0.21</text>
<text x="1328.55" y="1268.49">0.32</text>
<text x="1386.65" y="1268.49">-0.10</text>
<text class="w" x="1444.75" y="1268.49">0.73</text>
<text class="w" x="1502.85" y="1268.49">1.00</text>
</g>
<g class="t y">
<text x="1050.10" y="936.65">Days of hospitalization</text>
<text x="1050.10" y="994.75">Therapy minutes</text>
<text x="1050.10" y="1052.85">Number of therapy sessions</text>
<text x="1050.10" y="1110.95">Age</text>
<text x="1050.10" y="1169.05">Score</text>
<text x="1050.10" y="1227.15">Difficulty</text>
<text x="1050.10" y="1285.25">Forearm weight support</text>
<text x="1050.10" y="1343.35">Arm weight support</text>
</g>
<g class="t x">
<text transform="translate(1093.55 1393.06) rotate(-45)">Days of hospitalization</text>
<text transform="translate(1151.65 1393.06) rotate(-45)">Therapy minutes</text>
<text transform="translate(1209.75 1393.06) rotate(-45)">Number of therapy sessions</text>
<text transform="translate(1267.85 1393.06) rotate(-45)">Age</text>
<text transform="translate(1325.95 1393.06) rotate(-45)">Score</text>
<text transform="translate(1384.05 1393.06) rotate(-45)">Difficulty</text>
<text transform="translate(1442.15 1393.06) rotate(-45)">Forearm weight support</text>
<text transform="translate(1500.25 1393.06) rotate(-45)">Arm weight support</text>
</g>
</g>
<defs><linearGradient id="cw" x1="0" y1="1" x2="0" y2="0">
<stop offset="0.0000" stop-color="#424dbc"/>
<stop offset="0.0156" stop-color="#4754c2"/>
<stop offset="0.0312" stop-color="#4c5ac8"/>
<stop offset="0.0469" stop-color="#5161ce"/>
<stop offset="0.0625" stop-color="#5768d3"/>
<stop offset="0.0781" stop-color="#5c6ed8"/>
<stop offset="0.0938" stop-color="#6174dd"/>
<stop offset="0.1094" stop-color="#677be2"/>
<stop offset="0.1250" stop-color="#6c81e6"/>
<stop offset="0.1406" stop-color="#7187ea"/>
<stop offset="0.1562" stop-color="#778dee"/>
<stop offset="0.1719" stop-color="#7c93f1"/>
<stop offset="0.1875" stop-color="#8199f4"/>
<stop offset="0.2031" stop-color="#879ff6"/>
<stop offset="0.2188" stop-color="#8ca4f8"/>
<stop offset="0.2344" stop-color="#92a9fa"/>
<stop offset="0.2500" stop-color="#97aefb"/>
<stop offset="0.2656" stop-color="#9cb3fc"/>
<stop offset="0.2812" stop-color="#a1b8fc"/>
<stop offset="0.2969" stop-color="#a6bcfc"/>
<stop offset="0.3125" stop-color="#abc1fc"/>
<stop offset="0.3281" stop-color="#b0c4fb"/>
<stop offset="0.3438" stop-color="#b5c8fa"/>
<stop offset="0.3594" stop-color="#bacbf9"/>
<stop offset="0.3750" stop-color="#becff7"/>
<stop offset="0.3906" stop-color="#c2d1f5"/>
<stop offset="0.4062" stop-color="#c7d4f2"/>
<stop offset="0.4219" stop-color="#cbd6ef"/>
<stop offset="0.4375" stop-color="#cfd8ec"/>
<stop offset="0.4531" stop-color="#d2d9e8"/>
<stop offset="0.4688" stop-color="#d6dae4"/>
<stop offset="0.4844" stop-color="#d9dbe0"/>
<stop offset="0.5000" stop-color="#dcdbdb"/>
<stop offset="0.5156" stop-color="#ded9d5"/>
<stop offset="0.5312" stop-color="#e1d7d0"/>
<stop offset="0.5469" stop-color="#e3d4ca"/>
<stop offset="0.5625" stop-color="#e4d1c4"/>
<stop offset="0.5781" stop-color="#e5cebe"/>
<stop offset="0.5938" stop-color="#e7cab8"/>
<stop offset="0.6094" stop-color="#e7c6b2"/>
<stop offset="0.6250" stop-color="#e7c2ab"/>
<stop offset="0.6406" stop-color="#e7bea5"/>
<stop offset="0.6562" stop-color="#e7b99f"/>
<stop offset="0.6719" stop-color="#e6b499"/>
<stop offset="0.6875" stop-color="#e5af93"/>
<stop offset="0.7031" stop-color="#e4a98c"/>
<stop offset="0.7188" stop-color="#e2a386"/>
<stop offset="0.7344" stop-color="#e09d80"/>
<stop offset="0.7500" stop-color="#de977a"/>
<stop offset="0.7656" stop-color="#db9174"/>
<stop offset="0.7812" stop-color="#d98a6f"/>
<stop offset="0.7969" stop-color="#d58369"/>
<stop offset="0.8125" stop-color="#d27c63"/>
<stop offset="0.8281" stop-color="#ce755e"/>
<stop offset="0.8438" stop-color="#ca6e58"/>
<stop offset="0.8594" stop-color="#c66653"/>
<stop offset="0.8750" stop-color="#c25f4e"/>
<stop offset="0.8906" stop-color="#bd5748"/>
<stop offset="0.9062" stop-color="#b94f44"/>
<stop offset="0.9219" stop-color="#b3463f"/>
<stop offset="0.9375" stop-color="#ae3d3a"/>
<stop offset="0.9531" stop-color="#a93436"/>
<stop offset="0.9688" stop-color="#a32831"/>
<stop offset="0.9844" stop-color="#9d192d"/>
<stop offset="1.0000" stop-color="#990c2a"/>
</linearGradient></defs>
<rect x="1566.10" y="902.70" width="23.30" height="464.80" fill="url(#cw)"/>
<g stroke="#1a1a1a" stroke-width="2.2">
<line x1="1589.40" x2="1600.10" y1="902.70" y2="902.70"/>
<line x1="1589.40" x2="1600.10" y1="964.10" y2="964.10"/>
<line x1="1589.40" x2="1600.10" y1="1025.50" y2="1025.50"/>
<line x1="1589.40" x2="1600.10" y1="1086.90" y2="1086.90"/>
<line x1="1589.40" x2="1600.10" y1="1148.30" y2="1148.30"/>
<line x1="1589.40" x2="1600.10" y1="1209.70" y2="1209.70"/>
<line x1="1589.40" x2="1600.10" y1="1271.10" y2="1271.10"/>
<line x1="1589.40" x2="1600.10" y1="1332.50" y2="1332.50"/>
</g><g class="c" transform="scale(1 1.05)">
<text x="1606.70" y="866.86">1.0</text>
<text x="1606.70" y="925.33">0.8</text>
<text x="1606.70" y="983.81">0.6</text>
<text x="1606.70" y="1042.29">0.4</text>
<text x="1606.70" y="1100.76">0.2</text>
<text x="1606.70" y="1159.24">0.0</text>
<text x="1606.70" y="1217.72">−0.2</text>
<text x="1606.70" y="1276.19">−0.4</text>
</g>
</svg></body></html>
